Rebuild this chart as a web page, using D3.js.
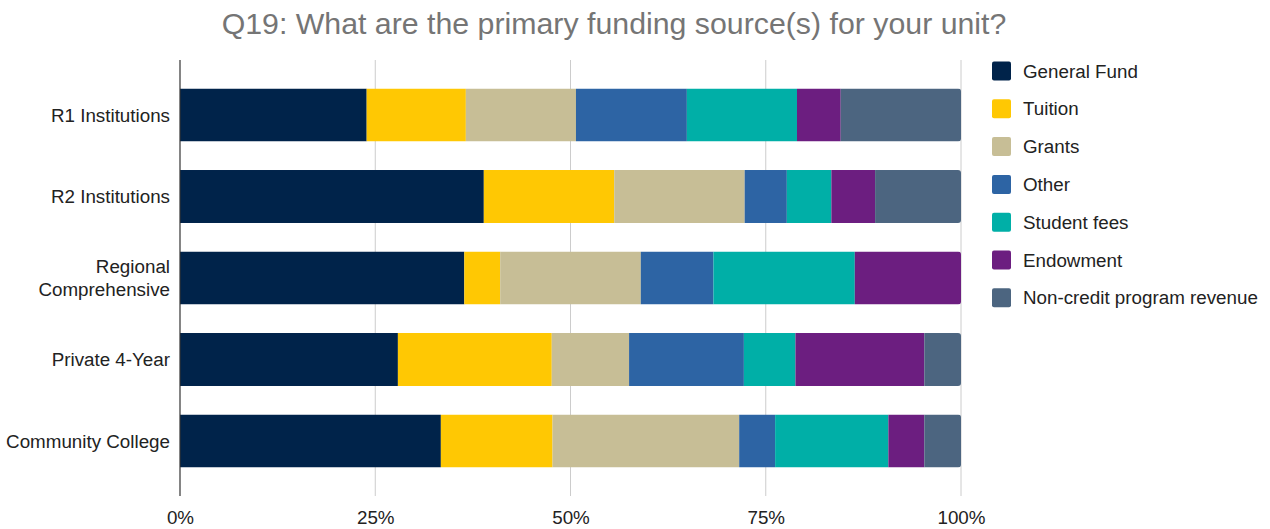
<!DOCTYPE html>
<html>
<head>
<meta charset="utf-8">
<script src="https://cdn.jsdelivr.net/npm/d3@7"></script>
<style>
  html, body { margin: 0; padding: 0; background: #fff; }
  svg { display: block; font-family: "Liberation Sans", Arial, sans-serif; }
</style>
</head>
<body>
<svg id="chart" width="1270" height="529"></svg>
<script>
// Institution types (rows, top to bottom)
const categories = ["R1 Institutions", "R2 Institutions", "Regional\nComprehensive", "Private 4-Year", "Community College"];

// Funding sources, in stacking order
const seriesNames = ["General Fund", "Tuition", "Grants", "Other", "Student fees", "Endowment", "Non-credit program revenue"];
const seriesColors = ["#00234A", "#FFC803", "#C7BE96", "#2D64A4", "#00AFA7", "#6C1E80", "#4C6580"];

// Share of responses (%) per funding source, one value per category
const generalFund   = [23.9, 38.9, 36.4, 27.9, 33.4];
const tuition       = [12.7, 16.7,  4.6, 19.7, 14.3];
const grants        = [14.1, 16.7, 18.0,  9.9, 23.9];
const other         = [14.2,  5.4,  9.3, 14.7,  4.6];
const studentFees   = [14.1,  5.7, 18.1,  6.6, 14.5];
const endowment     = [ 5.6,  5.6, 13.6, 16.5,  4.6];
const nonCredit     = [15.4, 11.0,  0.0,  4.7,  4.7];

const tickValues = [0, 25, 50, 75, 100];
const tickLabels = ["0%", "25%", "50%", "75%", "100%"];

const seriesValues = [generalFund, tuition, grants, other, studentFees, endowment, nonCredit];

// Table for d3.stack
const rows = categories.map((c, i) => {
  const r = { category: c };
  seriesNames.forEach((s, j) => { r[s] = seriesValues[j][i]; });
  return r;
});

const svg = d3.select("#chart");
const plot = { left: 180, right: 961, top: 60, bottom: 496 };
const fontSize = 18.8;

const x = d3.scaleLinear().domain([0, 100]).range([plot.left, plot.right]);
const y = d3.scaleBand().domain(categories).range([74.25, 481.75]).paddingInner(0.35).paddingOuter(0.175);

// Title
svg.append("text")
  .attr("x", 614).attr("y", 34)
  .attr("text-anchor", "middle")
  .attr("fill", "#757575")
  .attr("font-size", 30.3)
  .text("Q19: What are the primary funding source(s) for your unit?");

// Vertical gridlines
svg.append("g").selectAll("line")
  .data(tickValues.filter(v => v > 0))
  .join("line")
  .attr("x1", d => x(d)).attr("x2", d => x(d))
  .attr("y1", plot.top).attr("y2", plot.bottom)
  .attr("stroke", "#cccccc").attr("stroke-width", 1);

// Stacked bars
const stack = d3.stack().keys(seriesNames);
const layers = stack(rows);

const defs = svg.append("defs");
categories.forEach((c, i) => {
  defs.append("clipPath").attr("id", "clip" + i)
    .append("rect")
    .attr("x", x(0) - 6)
    .attr("y", y(c))
    .attr("width", x(d3.sum(seriesValues, s => s[i])) - x(0) + 6)
    .attr("height", y.bandwidth())
    .attr("rx", 3);
});

const barG = svg.append("g");
categories.forEach((c, i) => {
  const g = barG.append("g").attr("clip-path", `url(#clip${i})`);
  layers.forEach((layer, j) => {
    const d = layer[i];
    if (d[1] - d[0] <= 0) return;
    g.append("rect")
      .attr("x", x(d[0]))
      .attr("y", y(c))
      .attr("width", x(d[1]) - x(d[0]))
      .attr("height", y.bandwidth())
      .attr("fill", seriesColors[j]);
  });
});

// Zero axis line
svg.append("line")
  .attr("x1", x(0)).attr("x2", x(0))
  .attr("y1", plot.top).attr("y2", plot.bottom)
  .attr("stroke", "#333333").attr("stroke-width", 1.2);

// X axis tick labels
const xAxis = d3.axisBottom(x).tickValues(tickValues).tickFormat((d, i) => tickLabels[i]).tickSize(0).tickPadding(0);
const xg = svg.append("g").attr("transform", `translate(0, 524)`).call(xAxis);
xg.select(".domain").remove();
xg.selectAll("text").attr("font-size", fontSize).attr("fill", "#222").attr("font-family", "Liberation Sans, Arial, sans-serif").attr("dy", 0);

// Y category labels (multi-line where needed)
const yl = svg.append("g");
categories.forEach(c => {
  const lines = c.split("\n");
  const cy = y(c) + y.bandwidth() / 2;
  const lh = 23;
  const t = yl.append("text")
    .attr("text-anchor", "end")
    .attr("fill", "#222")
    .attr("font-size", fontSize);
  lines.forEach((ln, k) => {
    t.append("tspan")
      .attr("x", 170)
      .attr("y", cy + (k - (lines.length - 1) / 2) * lh)
      .attr("dy", "0.35em")
      .text(ln);
  });
});

// Legend
const legend = svg.append("g");
seriesNames.forEach((s, j) => {
  const cy = 71 + j * 37.8;
  legend.append("rect")
    .attr("x", 992).attr("y", cy - 9.5)
    .attr("width", 19).attr("height", 19)
    .attr("rx", 2)
    .attr("fill", seriesColors[j]);
  legend.append("text")
    .attr("x", 1023).attr("y", cy)
    .attr("dy", "0.35em")
    .attr("fill", "#222")
    .attr("font-size", fontSize)
    .text(s);
});
</script>
</body>
</html>
